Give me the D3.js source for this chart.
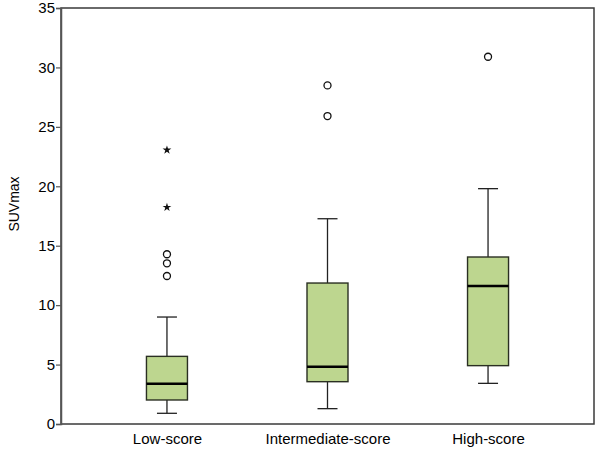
<!DOCTYPE html>
<html>
<head>
<meta charset="utf-8">
<script src="https://cdn.jsdelivr.net/npm/d3@7"></script>
<style>
  body { margin: 0; background: #fff; }
  svg { display: block; }
  text { font-family: "Liberation Sans", Arial, sans-serif; fill: #000; }
</style>
</head>
<body>
<svg id="chart" width="602" height="453"></svg>
<script>
const categories = ["Low-score", "Intermediate-score", "High-score"];
const whiskerLow  = [0.9, 1.29, 3.42];
const q1          = [2.02, 3.56, 4.91];
const medians     = [3.39, 4.82, 11.61];
const q3          = [5.69, 11.86, 14.05];
const whiskerHigh = [9.0, 17.27, 19.8];
const circleOutliers = [[14.28, 13.52, 12.45], [28.49, 25.91], [30.9]];
const starOutliers   = [[23.05, 18.23], [], []];
const yTicks = [0, 5, 10, 15, 20, 25, 30, 35];
const yLabel = "SUVmax";

const svg = d3.select("#chart");
const m = { left: 61, right: 594, top: 8, bottom: 424 };

const x = d3.scalePoint().domain(categories).range([m.left, m.right]).padding(0.66);
const y = d3.scaleLinear().domain([0, 35]).range([m.bottom, m.top]);

const boxW = 41, capW = 20;

// frame
svg.append("rect")
  .attr("x", m.left).attr("y", m.top)
  .attr("width", m.right - m.left).attr("height", m.bottom - m.top)
  .attr("fill", "none").attr("stroke", "#3a3a3a").attr("stroke-width", 1.5);

// y axis
const yAxis = svg.append("g")
  .attr("transform", `translate(${m.left},0)`)
  .call(d3.axisLeft(y).tickValues(yTicks).tickSize(5).tickPadding(1).tickFormat(d3.format("d")));
yAxis.select(".domain").attr("stroke", "#555").attr("stroke-width", 1.5);
yAxis.selectAll(".tick line").attr("stroke", "#555").attr("stroke-width", 1.2);
yAxis.selectAll(".tick text").attr("font-size", 15).attr("fill", "#000");

// x axis labels
const xAxis = svg.append("g")
  .attr("transform", `translate(0,${m.bottom})`)
  .call(d3.axisBottom(x).tickSize(0).tickPadding(9));
xAxis.select(".domain").remove();
xAxis.selectAll(".tick text").attr("font-size", 15).attr("fill", "#000");

// y label
svg.append("text")
  .attr("transform", `translate(19,${(m.top + m.bottom) / 2 - 12}) rotate(-90)`)
  .attr("text-anchor", "middle")
  .attr("font-size", 14)
  .text(yLabel);

// boxes
const g = svg.append("g");
categories.forEach((c, i) => {
  const cx = x(c);
  g.append("line").attr("x1", cx).attr("x2", cx).attr("y1", y(whiskerHigh[i])).attr("y2", y(q3[i]))
    .attr("stroke", "#222").attr("stroke-width", 1.3);
  g.append("line").attr("x1", cx).attr("x2", cx).attr("y1", y(q1[i])).attr("y2", y(whiskerLow[i]))
    .attr("stroke", "#222").attr("stroke-width", 1.3);
  [whiskerHigh[i], whiskerLow[i]].forEach(v => {
    g.append("line").attr("x1", cx - capW / 2).attr("x2", cx + capW / 2).attr("y1", y(v)).attr("y2", y(v))
      .attr("stroke", "#222").attr("stroke-width", 1.3);
  });
  g.append("rect")
    .attr("x", cx - boxW / 2).attr("y", y(q3[i]))
    .attr("width", boxW).attr("height", y(q1[i]) - y(q3[i]))
    .attr("fill", "#bdd68f").attr("stroke", "#2a2f22").attr("stroke-width", 1.4);
  g.append("line").attr("x1", cx - boxW / 2).attr("x2", cx + boxW / 2)
    .attr("y1", y(medians[i])).attr("y2", y(medians[i]))
    .attr("stroke", "#000").attr("stroke-width", 2.5);
  circleOutliers[i].forEach(v => {
    g.append("circle").attr("cx", cx).attr("cy", y(v)).attr("r", 3.5)
      .attr("fill", "#fff").attr("stroke", "#111").attr("stroke-width", 1.3);
  });
  starOutliers[i].forEach(v => {
    g.append("path").attr("d", d3.symbol().type(d3.symbolStar).size(24)())
      .attr("transform", `translate(${cx},${y(v)})`).attr("fill", "#111");
  });
});
</script>
</body>
</html>
